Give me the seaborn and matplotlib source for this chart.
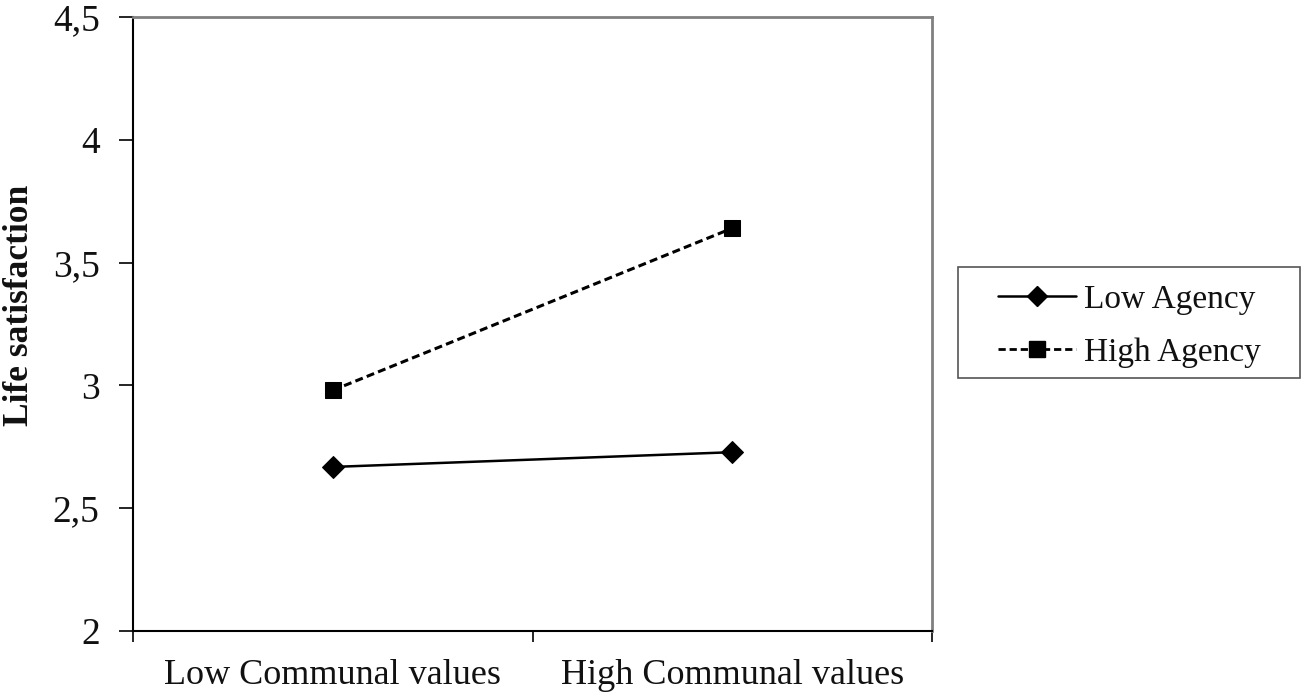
import matplotlib
matplotlib.use("Agg")
import matplotlib.pyplot as plt
import seaborn as sns
import pandas as pd
from matplotlib.lines import Line2D
from matplotlib.patches import Rectangle

categories = ["Low Communal values", "High Communal values"]
series = ["Low Agency", "High Agency"]
low_agency = [2.668, 2.728]
high_agency = [2.98, 3.64]
y_ticks = [2, 2.5, 3, 3.5, 4, 4.5]
y_tick_labels = ["2", "2,5", "3", "3,5", "4", "4,5"]

sns.set_theme(style="white")
plt.rcParams["font.family"] = ["Liberation Serif", "DejaVu Serif"]

df = pd.DataFrame({
    "x": [0.5, 1.5, 0.5, 1.5],
    "y": low_agency + high_agency,
    "group": [series[0]] * 2 + [series[1]] * 2,
})

W, H = 1307, 695
fig = plt.figure(figsize=(W / 100, H / 100), dpi=100)
ax = fig.add_axes([133 / W, (H - 631) / H, (932 - 133) / W, (631 - 17) / H])

sns.lineplot(data=df, x="x", y="y", hue="group", style="group",
             palette={series[0]: "black", series[1]: "black"},
             markers={series[0]: "D", series[1]: "s"},
             dashes={series[0]: "", series[1]: (2.6, 1.4)},
             linewidth=2.0, ax=ax, legend=False)
for ln, lab in zip(ax.get_lines(), series):
    if lab == "Low Agency":
        ln.set_markersize(11)
        ln.set_linewidth(1.8)
    else:
        ln.set_markersize(12)
        ln.set_linewidth(2.2)
    ln.set_markeredgecolor("black")
    ln.set_markerfacecolor("black")

ax.set_xlim(0, 2)
ax.set_ylim(2, 4.5)
ax.set_xticks([0, 1, 2])
ax.set_xticklabels([])
ax.set_xticks([0.5, 1.5], minor=True)
ax.set_xticklabels(categories, minor=True)
ax.tick_params(axis="x", which="minor", length=0, pad=20, labelsize=26, labelcolor="#111111")
ax.tick_params(axis="x", which="major", direction="out", length=8, width=1.2, color="black", bottom=True)
ax.set_yticks(y_ticks)
ax.set_yticklabels(y_tick_labels)
ax.tick_params(axis="y", direction="out", length=10, width=1.2, color="black", labelsize=27,
               pad=14, left=True, labelcolor="#111111")
ax.set_xlabel("")
ax.set_ylabel("Life satisfaction", fontsize=25.5, fontweight="bold", color="#111111")
ax.yaxis.set_label_coords((36 - 133) / 799, (631 - 305) / 614)

for side in ["left", "bottom"]:
    ax.spines[side].set_color("black")
    ax.spines[side].set_linewidth(1.5)
for side in ["top", "right"]:
    ax.spines[side].set_color("#808080")
    ax.spines[side].set_linewidth(2.0)

# legend box
fig.patches.append(Rectangle((958 / W, (H - 378) / H), (1300 - 958) / W, (378 - 267) / H,
                             transform=fig.transFigure, fill=False,
                             edgecolor="#555555", linewidth=1.2))
handles = [
    Line2D([], [], color="black", linewidth=1.8, marker="D", markersize=10),
    Line2D([], [], color="black", linewidth=2.0, linestyle=(0, (2.6, 1.4)), marker="s", markersize=12),
]
leg = fig.legend(handles, series, loc="center", bbox_to_anchor=(1129.5 / W, (H - 326) / H),
                 fontsize=24, frameon=False, handlelength=2.35,
                 handletextpad=0.25, borderpad=0.0, labelspacing=0.68, borderaxespad=0,
                 labelcolor="#111111")

fig.savefig("out.png", dpi=100)
